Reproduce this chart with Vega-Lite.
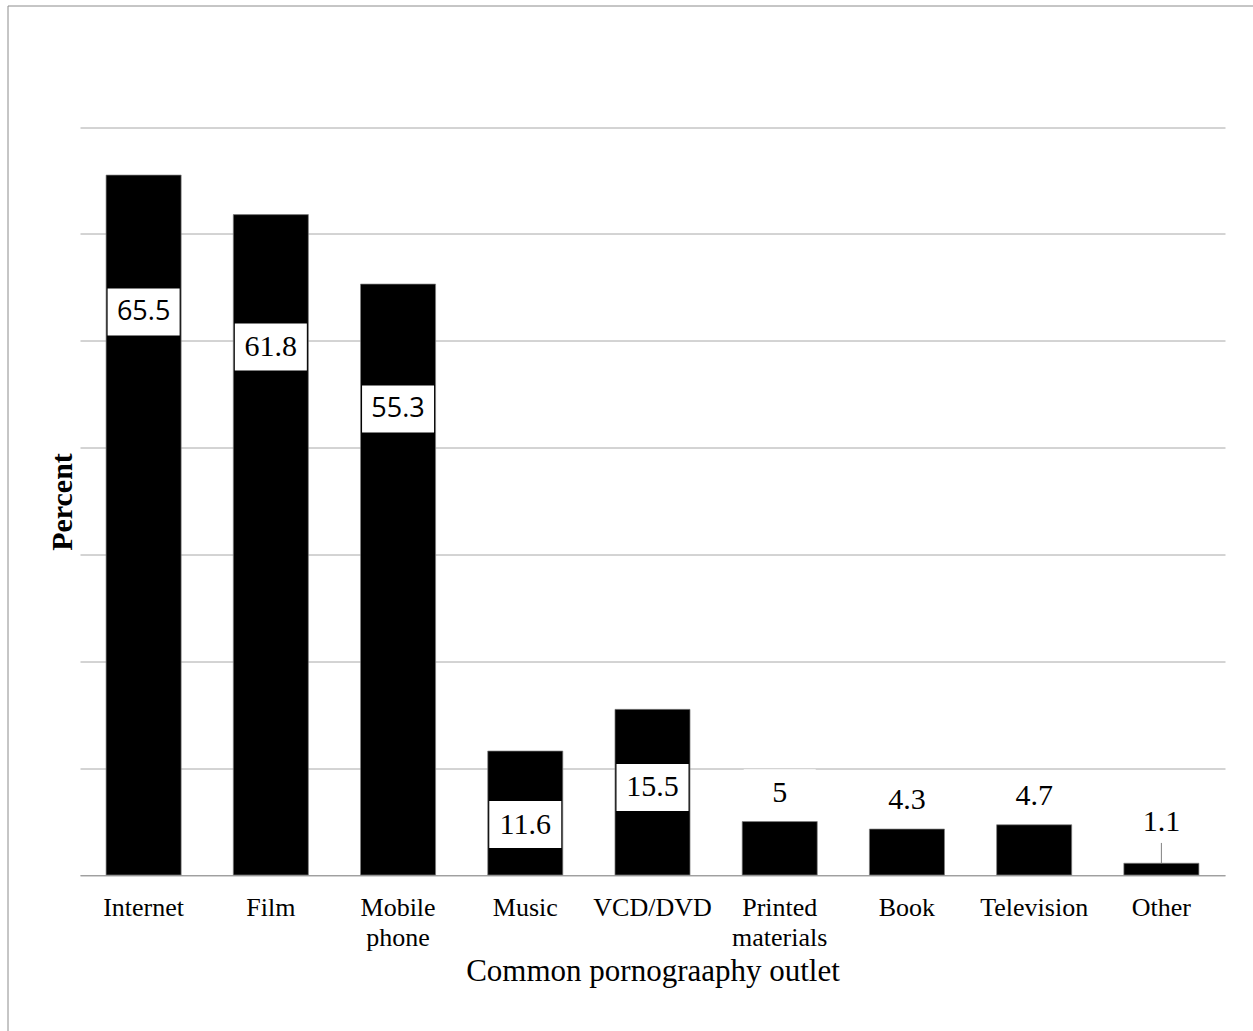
{
  "$schema": "https://vega.github.io/schema/vega-lite/v6.json",
  "width": 1251.5,
  "height": 1031.5,
  "autosize": {"type": "none"},
  "padding": {"left": 7.5, "top": 5.5, "right": -6, "bottom": -6},
  "background": "white",
  "config": {
    "view": {"stroke": "#8c8c8c", "strokeWidth": 1},
    "font": "Liberation Serif"
  },
  "data": {
    "values": [
      {"outlet": "Internet", "value": 65.5},
      {"outlet": "Film", "value": 61.8},
      {"outlet": "Mobile phone", "value": 55.3},
      {"outlet": "Music", "value": 11.6},
      {"outlet": "VCD/DVD", "value": 15.5},
      {"outlet": "Printed materials", "value": 5},
      {"outlet": "Book", "value": 4.3},
      {"outlet": "Television", "value": 4.7},
      {"outlet": "Other", "value": 1.1}
    ]
  },
  "transform": [
    {
      "calculate": "datum.value > 10 ? datum.value * 0.89 - 5.6 : (datum.value < 2 ? datum.value + 3.9 : datum.value + 2.7)",
      "as": "labelPos"
    },
    {"calculate": "datum.labelPos - 2.2", "as": "boxLo"},
    {"calculate": "datum.labelPos + 2.2", "as": "boxHi"}
  ],
  "encoding": {
    "x": {
      "field": "outlet",
      "type": "nominal",
      "sort": null,
      "scale": {"range": [72.5, 1217.5], "paddingInner": 0.41, "paddingOuter": 0.205},
      "axis": {
        "offset": -162,
        "title": "Common pornograaphy outlet",
        "titleFont": "Liberation Serif",
        "titleFontSize": 31,
        "titleFontWeight": "normal",
        "titleColor": "black",
        "titleBaseline": "alphabetic",
        "titleY": 105,
        "labelAngle": 0,
        "labelFont": "Liberation Serif",
        "labelFontSize": 26,
        "labelColor": "black",
        "labelExpr": "split(datum.label, ' ')",
        "labelLineHeight": 30,
        "labelBaseline": "alphabetic",
        "labelPadding": 40,
        "ticks": false,
        "tickSize": 0,
        "domainColor": "#a0a0a0",
        "domainWidth": 1
      }
    }
  },
  "layer": [
    {
      "mark": {"type": "bar", "color": "black", "stroke": "#7f7f7f", "strokeWidth": 0.7},
      "encoding": {
        "y": {
          "field": "value",
          "type": "quantitative",
          "scale": {"domain": [0, 70], "nice": false, "range": [869.5, 121.5]},
          "axis": {
            "offset": -72.5,
            "title": "Percent",
            "titleFont": "Liberation Serif",
            "titleFontSize": 30,
            "titleFontWeight": "bold",
            "titleColor": "black",
            "titleAngle": -90,
            "titleAlign": "center",
            "titleBaseline": "alphabetic",
            "titleX": -9,
            "titleY": 496,
            "labels": false,
            "ticks": false,
            "domain": false,
            "grid": true,
            "gridColor": "#a8a8a8",
            "gridWidth": 1,
            "values": [0, 10, 20, 30, 40, 50, 60, 70]
          }
        }
      }
    },
    {
      "mark": {"type": "bar", "color": "white", "width": 72},
      "encoding": {
        "y": {"field": "boxLo", "type": "quantitative"},
        "y2": {"field": "boxHi"}
      }
    },
    {
      "transform": [{"filter": "datum.outlet !== 'Internet' && datum.outlet !== 'Mobile phone'"}],
      "mark": {"type": "text", "font": "Liberation Serif", "fontSize": 30, "color": "black", "baseline": "middle", "align": "center"},
      "encoding": {
        "y": {"field": "labelPos", "type": "quantitative"},
        "text": {"field": "value", "type": "quantitative"}
      }
    },
    {
      "transform": [{"filter": "datum.outlet === 'Internet' || datum.outlet === 'Mobile phone'"}],
      "mark": {"type": "text", "font": "Open Sans", "fontSize": 27, "color": "black", "baseline": "middle", "align": "center"},
      "encoding": {
        "y": {"field": "labelPos", "type": "quantitative"},
        "text": {"field": "value", "type": "quantitative"}
      }
    },
    {
      "transform": [
        {"filter": "datum.value < 2"},
        {"calculate": "datum.value + 1.9", "as": "leaderTop"}
      ],
      "mark": {"type": "rule", "color": "#808080", "strokeWidth": 1},
      "encoding": {
        "y": {"field": "value", "type": "quantitative"},
        "y2": {"field": "leaderTop"}
      }
    }
  ]
}
